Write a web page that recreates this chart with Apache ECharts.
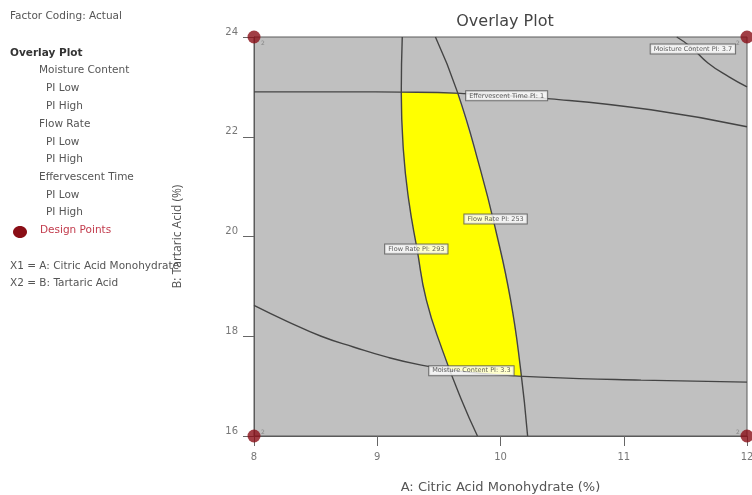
<!DOCTYPE html>
<html>
<head>
<meta charset="utf-8">
<script src="https://cdn.jsdelivr.net/npm/echarts@6/dist/echarts.min.js"></script>
<style>
  html, body { margin: 0; padding: 0; background: #ffffff; }
  #chart { width: 752px; height: 495px; }
</style>
</head>
<body>
<div id="chart"></div>
<script>
// Axis ranges and ticks
const xTicks = [8, 9, 10, 11, 12];
const yTicks = [16, 18, 20, 22, 24];

// Contour: Flow Rate PI 293 (left steep curve)
const flowHighX = [9.203, 9.195, 9.212, 9.255, 9.324, 9.398, 9.528, 9.683, 9.813];
const flowHighY = [24.0, 22.898, 21.735, 20.733, 19.731, 18.729, 17.727, 16.725, 16.0];

// Contour: Flow Rate PI 253 (right steep curve)
const flowLowX = [9.472, 9.650, 9.837, 9.96, 10.081, 10.163, 10.220];
const flowLowY = [24.0, 22.9, 21.34, 20.14, 18.74, 17.34, 16.0];

// Contour: Effervescent Time PI 1
const effX = [8.0, 8.78, 9.19, 9.675, 10.407, 11.22, 12.0];
const effY = [22.9, 22.9, 22.895, 22.87, 22.76, 22.54, 22.2];

// Contour: Moisture Content PI 3.3
const moistLowX = [8.0, 8.268, 8.545, 8.813, 9.081, 9.358, 9.634, 9.919, 10.325, 11.14, 12.0];
const moistLowY = [18.62, 18.3, 18.0, 17.78, 17.58, 17.42, 17.31, 17.24, 17.18, 17.12, 17.08];

// Contour: Moisture Content PI 3.7
const moistHighX = [11.43, 11.545, 11.683, 11.854, 12.0];
const moistHighY = [24.0, 23.8, 23.48, 23.2, 23.0];

// Feasible (overlay) region boundary, clockwise from the top-left corner
const regionX = [9.195, 9.650, 9.837, 9.96, 10.081, 10.163, 10.171, 9.919, 9.589, 9.528, 9.398, 9.324, 9.255, 9.212];
const regionY = [22.898, 22.87, 21.34, 20.14, 18.74, 17.34, 17.2, 17.24, 17.33, 17.727, 18.729, 19.731, 20.733, 21.735];

// Contour flags
const flagText = ['Moisture Content PI: 3.7', 'Effervescent Time PI: 1', 'Flow Rate PI: 253', 'Flow Rate PI: 293', 'Moisture Content PI: 3.3'];
const flagX = [11.561, 10.05, 9.96, 9.317, 9.764];
const flagY = [23.76, 22.82, 20.35, 19.75, 17.31];

// Design points (replicates)
const designX = [8, 8, 12, 12];
const designY = [16, 24, 16, 24];
const designReps = ['2', '2', '2', '2'];

// Left-hand annotation panel
const panelRows = [
  { text: 'Factor Coding: Actual', indent: 0, bold: false },
  { text: 'Overlay Plot', indent: 0, bold: true },
  { text: 'Moisture Content', indent: 29, bold: false },
  { text: 'PI Low', indent: 36, bold: false },
  { text: 'PI High', indent: 36, bold: false },
  { text: 'Flow Rate', indent: 29, bold: false },
  { text: 'PI Low', indent: 36, bold: false },
  { text: 'PI High', indent: 36, bold: false },
  { text: 'Effervescent Time', indent: 29, bold: false },
  { text: 'PI Low', indent: 36, bold: false },
  { text: 'PI High', indent: 36, bold: false }
];
const panelRowY = [18, 55, 72, 90, 108, 126, 144, 161, 179, 197, 214];
const factorRows = ['X1 = A: Citric Acid Monohydrate', 'X2 = B: Tartaric Acid'];
const factorRowY = [268, 285];

const FONT = '"DejaVu Sans", "Open Sans", sans-serif';
const NARROW = '"Open Sans", "Noto Sans", sans-serif';
const lineColor = '#444444';

function zip(xs, ys) { return xs.map((x, i) => [x, ys[i]]); }

function contour(name, xs, ys) {
  return {
    name: name,
    type: 'line',
    data: zip(xs, ys),
    smooth: 0.5,
    showSymbol: false,
    symbol: 'none',
    clip: true,
    z: 4,
    lineStyle: { color: lineColor, width: 1.4 },
    silent: true
  };
}

const graphics = [];
panelRows.forEach((r, i) => {
  graphics.push({
    type: 'text', left: 10 + r.indent, top: panelRowY[i] - 7,
    style: { text: r.text, font: (r.bold ? 'bold ' : '') + '10.5px ' + FONT, fill: r.bold ? '#333' : '#555' }
  });
});
graphics.push({ type: 'ellipse', shape: { cx: 20, cy: 232, rx: 7, ry: 6 }, style: { fill: '#8a0e16' } });
graphics.push({
  type: 'text', left: 40, top: 225,
  style: { text: 'Design Points', font: '10.5px ' + FONT, fill: '#c23b4c' }
});
factorRows.forEach((t, i) => {
  graphics.push({
    type: 'text', left: 10, top: factorRowY[i] - 7,
    style: { text: t, font: '10.5px ' + FONT, fill: '#555' }
  });
});

const chart = echarts.init(document.getElementById('chart'));
chart.setOption({
  animation: false,
  backgroundColor: '#ffffff',
  title: {
    text: 'Overlay Plot',
    left: 500, top: 9, textAlign: 'center',
    textStyle: { fontFamily: FONT, fontSize: 16, fontWeight: 'normal', color: '#444' }
  },
  grid: {
    left: 254, right: 5, top: 37, bottom: 59,
    outerBoundsMode: 'none', containLabel: false,
    show: true, backgroundColor: '#c0c0c0', borderColor: '#5a5a5a', borderWidth: 1
  },
  xAxis: {
    type: 'value', min: xTicks[0], max: xTicks[xTicks.length - 1], interval: 1,
    name: 'A: Citric Acid Monohydrate (%)', nameLocation: 'middle', nameGap: 45,
    nameTextStyle: { fontFamily: FONT, fontSize: 13, color: '#555' },
    axisLine: { show: true, lineStyle: { color: '#5a5a5a' } },
    axisTick: { show: true, length: 10, lineStyle: { color: '#666' } },
    axisLabel: { margin: 16, fontFamily: FONT, fontSize: 10, color: '#777' },
    splitLine: { show: false }
  },
  yAxis: {
    type: 'value', min: yTicks[0], max: yTicks[yTicks.length - 1], interval: 2,
    name: 'B: Tartaric Acid (%)', nameLocation: 'middle', nameGap: 70,
    nameTextStyle: { fontFamily: NARROW, fontSize: 12, color: '#555' },
    axisLine: { show: true, lineStyle: { color: '#5a5a5a' } },
    axisTick: { show: true, length: 11, lineStyle: { color: '#666' } },
    axisLabel: { margin: 16, fontFamily: FONT, fontSize: 10, color: '#777', verticalAlign: 'bottom' },
    splitLine: { show: false }
  },
  graphic: graphics,
  series: [
    {
      name: 'Overlay region',
      type: 'custom',
      clip: true,
      z: 2,
      silent: true,
      data: [0],
      renderItem: function (params, api) {
        const pts = regionX.map((x, i) => api.coord([x, regionY[i]]));
        return { type: 'polygon', shape: { points: pts }, style: { fill: '#ffff00', stroke: null } };
      }
    },
    contour('Flow Rate PI High', flowHighX, flowHighY),
    contour('Flow Rate PI Low', flowLowX, flowLowY),
    contour('Effervescent Time', effX, effY),
    contour('Moisture Content PI Low', moistLowX, moistLowY),
    contour('Moisture Content PI High', moistHighX, moistHighY),
    {
      name: 'Flags',
      type: 'scatter',
      z: 6,
      silent: true,
      symbolSize: 1,
      itemStyle: { color: 'rgba(0,0,0,0)' },
      data: flagText.map((t, i) => ({ value: [flagX[i], flagY[i]], name: t })),
      label: {
        show: true, position: 'inside', formatter: '{b}',
        fontFamily: FONT, fontSize: 6.5, color: '#333',
        backgroundColor: '#ffffff', borderColor: '#555', borderWidth: 1, padding: [1, 3]
      }
    },
    {
      name: 'Design Points',
      type: 'scatter',
      z: 8,
      clip: false,
      silent: true,
      symbolSize: 13,
      itemStyle: { color: '#8a0e16' },
      data: designX.map((x, i) => [x, designY[i]]),
      label: {
        show: true,
        formatter: (p) => designReps[p.dataIndex],
        position: 'inside',
        fontFamily: FONT, fontSize: 6, color: '#777'
      },
      labelLayout: function (p) {
        const left = designX[p.dataIndex] === xTicks[0];
        const top = designY[p.dataIndex] === yTicks[yTicks.length - 1];
        return { dx: left ? 9 : -9, dy: top ? 6 : -4 };
      }
    }
  ]
});
</script>
</body>
</html>
